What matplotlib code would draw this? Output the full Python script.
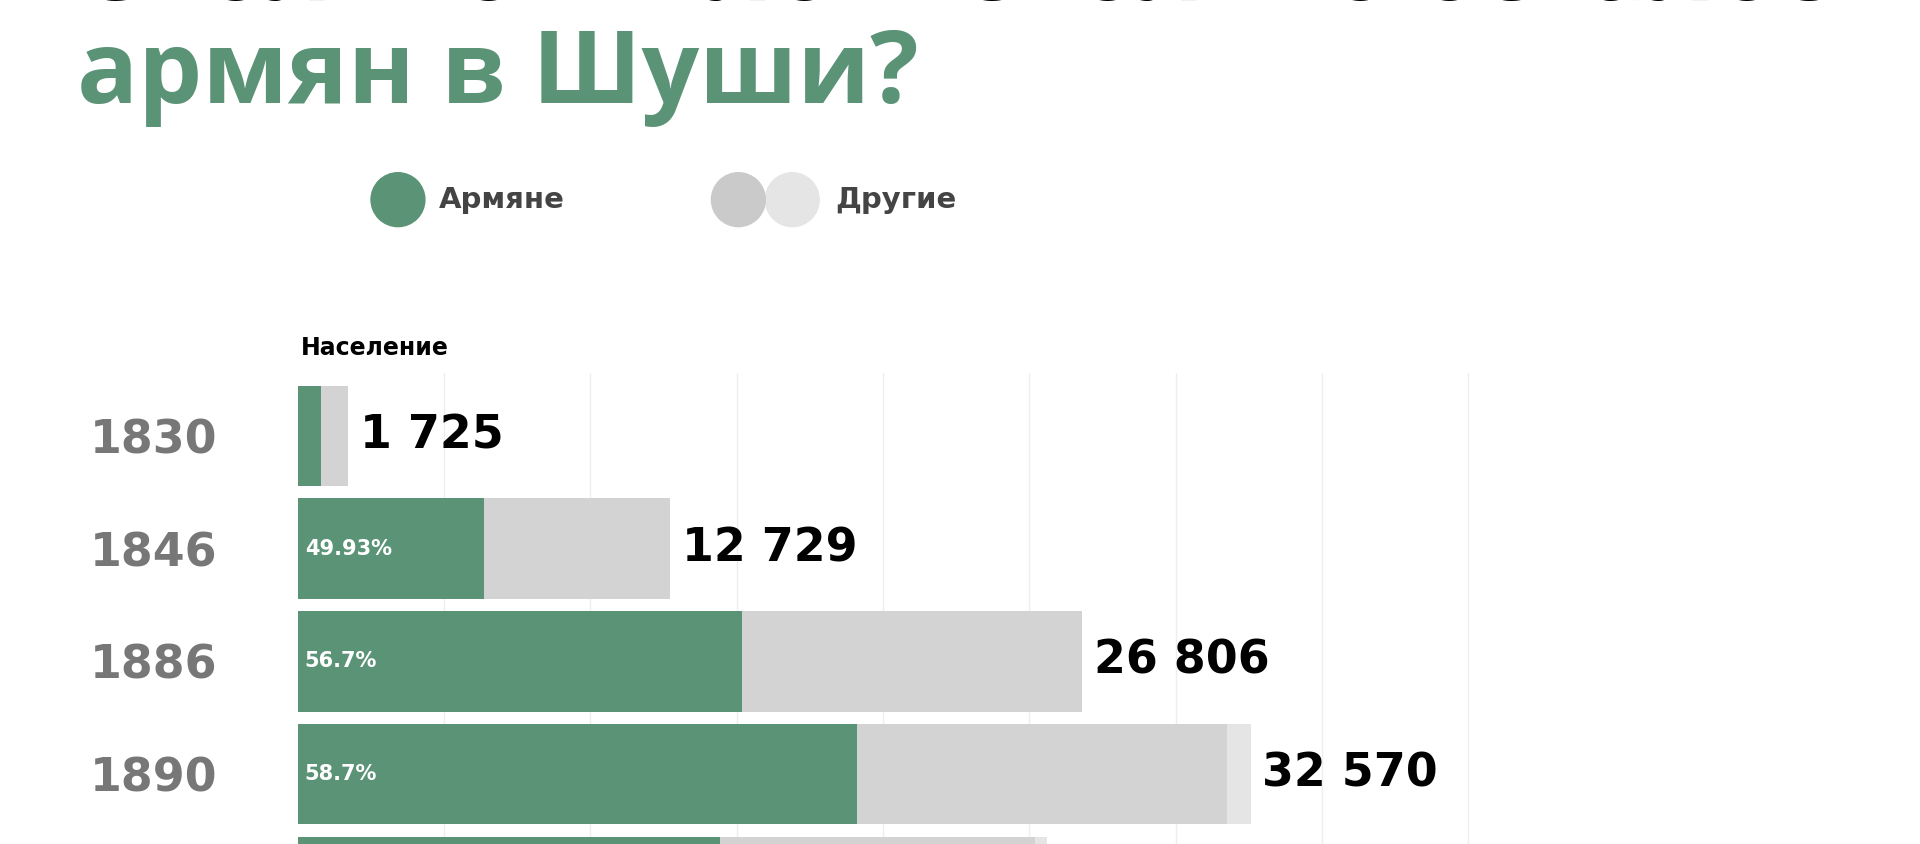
import matplotlib
matplotlib.use("Agg")
import matplotlib.pyplot as plt
from matplotlib.patches import Circle

years = ["1830", "1846", "1886", "1890", ""]
armenians = [795, 6356, 15199, 19119, 14435]
others = [920, 6373, 11607, 12638, 10753]
others_light = [10, 0, 0, 813, 419]
totals_label = ["1 725", "12 729", "26 806", "32 570", ""]
pct_label = ["", "49.93%", "56.7%", "58.7%", ""]

GREEN = "#5b9377"
GRAY = "#d3d3d3"
LGRAY = "#e6e5e6"
plt.rcParams['font.family'] = ['DejaVu Sans']

W, H = 1920, 844
S = 1920 / 1568
fig = plt.figure(figsize=(19.2, 8.44), dpi=100)
fig.patch.set_facecolor("white")

def fx(x): return x * S / W
def fy(y): return 1 - y * S / H

# titles
fig.text(fx(63), fy(84), "армян в Шуши?", color=GREEN, fontsize=73, fontweight="bold",
         va="baseline", family=['Open Sans', 'DejaVu Sans'])
fig.text(fx(63), fy(0), "Сколько жило и сколько осталось", color="black", fontsize=73,
         fontweight="bold", va="baseline", family=['Open Sans', 'DejaVu Sans'])

# legend
lax = fig.add_axes([0, 0, 1, 1], facecolor="none")
lax.set_xlim(0, 1568); lax.set_ylim(689, 0); lax.axis("off")
lax.set_aspect("equal", adjustable="datalim")
for cx, c in [(325, GREEN), (647, LGRAY), (603, "#cbcacb")]:
    lax.add_patch(Circle((cx, 163), 22, color=c))
lax.text(358, 163, "Армяне", fontsize=21, fontweight="bold", color="#444444", va="center")
lax.text(682, 163, "Другие", fontsize=21, fontweight="bold", color="#444444", va="center")
lax.text(246, 284, "Население", fontsize=17, fontweight="bold", color="black", va="center")

# bar axes
ax = fig.add_axes([fx(243), 0, 1 - fx(243), fy(305)])
ax.set_facecolor("none")
for s in ax.spines.values(): s.set_visible(False)
ypos = list(range(len(years)))
left2 = [a + o for a, o in zip(armenians, others)]
ax.barh(ypos, armenians, height=0.89, color=GREEN)
ax.barh(ypos, others, left=armenians, height=0.89, color=GRAY)
ax.barh(ypos, others_light, left=left2, height=0.89, color=LGRAY)
ax.set_xticks(range(5000, 40001, 5000))
ax.grid(axis="x", color="#eeeeee", lw=1)
ax.set_axisbelow(True)
ax.tick_params(length=0, labelbottom=False)
ax.set_yticks(ypos)
ax.set_yticklabels(years, fontsize=33, fontweight="bold", color="#777777")
ax.tick_params(axis="y", pad=58)
ax.set_xlim(0, (1568 - 243) / 0.0239)
ax.set_ylim(3.62, -0.554)
for i in ypos:
    tot = armenians[i] + others[i] + others_light[i]
    if totals_label[i]:
        ax.text(tot + 400, i, totals_label[i], fontsize=33, fontweight="bold", va="center", color="black")
    if pct_label[i]:
        ax.text(250, i, pct_label[i], fontsize=15, fontweight="bold", va="center", color="white")

fig.savefig("out.png", dpi=100)
